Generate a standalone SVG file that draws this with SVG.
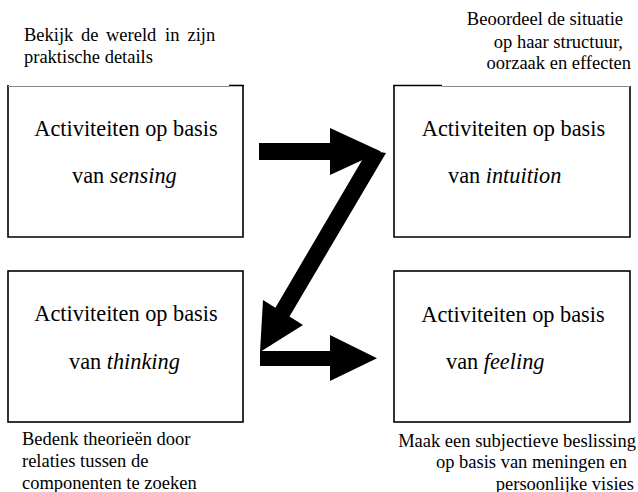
<svg xmlns="http://www.w3.org/2000/svg" width="638" height="492" viewBox="0 0 638 492">
<rect x="0" y="0" width="638" height="492" fill="#fff"/>
<g id="labels-top">
<text font-family="Liberation Serif" font-size="18.5" x="24" y="40.5"><tspan x="24">Bekijk</tspan><tspan x="81">de</tspan><tspan x="106">wereld</tspan><tspan x="165">in</tspan><tspan x="187.5">zijn</tspan></text>
<text font-family="Liberation Serif" font-size="18.5" x="24" y="63">praktische details</text>
<text font-family="Liberation Serif" font-size="18.5" x="623" y="25" text-anchor="end">Beoordeel de situatie</text>
<text font-family="Liberation Serif" font-size="18.5" x="623" y="47.5" text-anchor="end">op haar structuur,</text>
<text font-family="Liberation Serif" font-size="18.5" x="631" y="68.5" text-anchor="end">oorzaak en effecten</text>
</g>
<g id="node-sensing">
<path d="M8,85 V237 H243 V85" fill="none" stroke="#000" stroke-width="1.6"/>
<line x1="8" y1="86.5" x2="229" y2="86.5" stroke="#8a8a8a" stroke-width="1"/>
<line x1="229" y1="85.5" x2="243.8" y2="85.5" stroke="#000" stroke-width="1.6"/>
<text font-family="Liberation Serif" font-size="22.3" x="126" y="136" text-anchor="middle">Activiteiten op basis</text>
<text font-family="Liberation Serif" font-size="22.3" x="72" y="183">van <tspan font-style="italic">sensing</tspan></text>
</g>
<g id="node-intuition">
<path d="M394,85 V237 H630 V86" fill="none" stroke="#000" stroke-width="1.6"/>
<line x1="393.2" y1="85.5" x2="442" y2="85.5" stroke="#000" stroke-width="1.6"/>
<line x1="442" y1="86.5" x2="630" y2="86.5" stroke="#8a8a8a" stroke-width="1"/>
<text font-family="Liberation Serif" font-size="22.3" x="513.5" y="136" text-anchor="middle">Activiteiten op basis</text>
<text font-family="Liberation Serif" font-size="22.3" x="448" y="183">van <tspan font-style="italic">intuition</tspan></text>
</g>
<g id="node-thinking">
<rect x="8" y="271" width="235" height="151" fill="none" stroke="#000" stroke-width="1.6"/>
<text font-family="Liberation Serif" font-size="22.3" x="126" y="321" text-anchor="middle">Activiteiten op basis</text>
<text font-family="Liberation Serif" font-size="22.3" x="69" y="369">van <tspan font-style="italic">thinking</tspan></text>
</g>
<g id="node-feeling">
<rect x="394" y="271" width="236" height="151" fill="none" stroke="#000" stroke-width="1.6"/>
<text font-family="Liberation Serif" font-size="22.3" x="513" y="321.5" text-anchor="middle">Activiteiten op basis</text>
<text font-family="Liberation Serif" font-size="22.3" x="446" y="369">van <tspan font-style="italic">feeling</tspan></text>
</g>
<g id="labels-bottom">
<text font-family="Liberation Serif" font-size="18.5" x="22" y="445">Bedenk theorieën door</text>
<text font-family="Liberation Serif" font-size="18.5" x="22" y="467">relaties tussen de</text>
<text font-family="Liberation Serif" font-size="18.5" x="22" y="489">componenten te zoeken</text>
<text font-family="Liberation Serif" font-size="18.5" x="636" y="446.5" text-anchor="end">Maak een subjectieve beslissing</text>
<text font-family="Liberation Serif" font-size="18.5" x="627" y="468" text-anchor="end">op basis van meningen en</text>
<text font-family="Liberation Serif" font-size="18.5" x="634" y="489.5" text-anchor="end">persoonlijke visies</text>
</g>
<g id="connectors" fill="#000">
<polygon points="259,143 330,143 330,128 381,151.5 330,175 330,160 259,160"/>
<polygon points="368,150 386,153 289.5,316.5 303,325 260,352 263,300 275.4,307.7"/>
<polygon points="260,351 330,351 330,335 377,358.3 330,381 330,366 260,366"/>
</g>
</svg>
